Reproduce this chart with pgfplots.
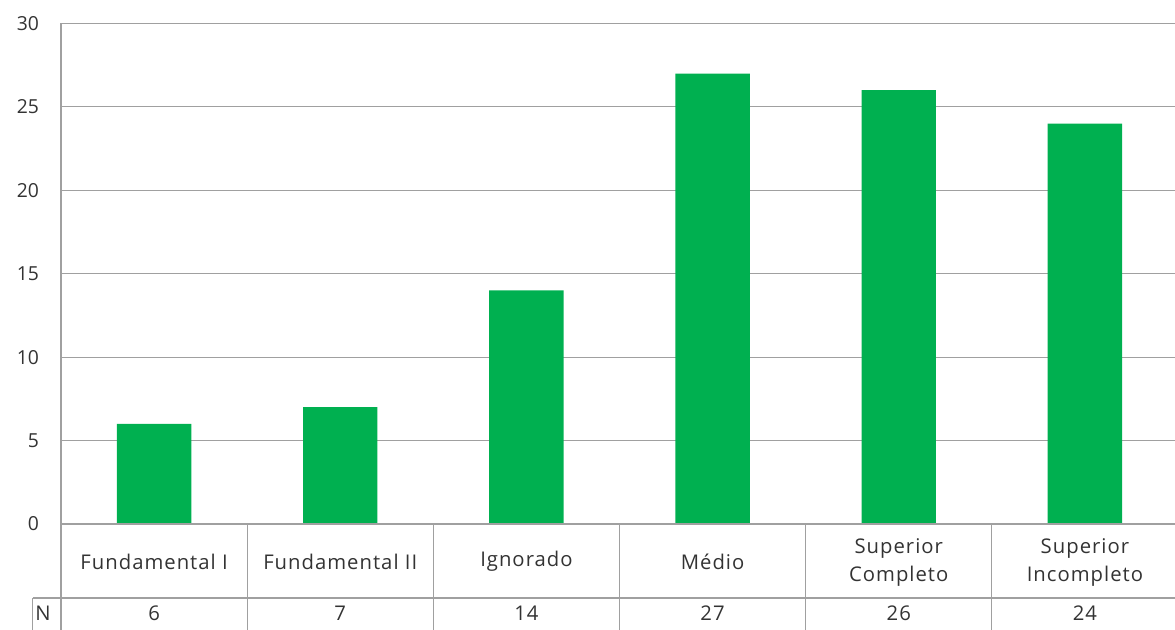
\documentclass[border=0pt]{standalone}
\usepackage{pgfplots}
\pgfplotsset{compat=1.18}
\usepackage{fontspec}
\setmainfont{Open Sans}
\definecolor{bargreen}{HTML}{00B050}
\definecolor{gridgray}{HTML}{A0A0A0}
\definecolor{txt}{HTML}{333333}
\begin{document}
\begin{tikzpicture}
\begin{axis}[
    at={(45.75pt,78.75pt)}, anchor=south west,
    scale only axis,
    width=837.75pt, height=375.4pt,
    xmin=-0.5, xmax=5.5, ymin=0, ymax=30,
    ytick={0,5,...,30},
    xtick=\empty,
    axis x line=none,
    axis y line*=left,
    axis line style={draw=gridgray, line width=0.9pt, -},
    ymajorgrids,
    major grid style={draw=gridgray, line width=0.9pt},
    major tick length=0pt,
    /pgf/number format/assume math mode=true,
    yticklabel style={font=\fontsize{14.5}{16}\selectfont, text=txt, xshift=-13pt},
    clip=false,
]
\addplot[ybar, bar width=0.4, fill=bargreen, draw=none] coordinates {
    (0,6) (1,7) (2,14) (3,27) (4,26) (5,24)
};
% data table below the plot
\draw[gridgray, line width=0.9pt] (axis cs:-0.5,0) -- (axis cs:5.6,0);
\draw[gridgray, line width=0.9pt] (axis cs:-0.651,-4.435) -- (axis cs:5.6,-4.435);
\draw[gridgray, line width=0.9pt] (axis cs:-0.651,-4.435) -- (axis cs:-0.651,-7);
\pgfplotsinvokeforeach{-0.5,0.5,1.5,2.5,3.5,4.5}{
    \draw[gridgray, line width=0.9pt] (axis cs:#1,0) -- (axis cs:#1,-7);
}
\begin{scope}[every node/.style={font=\addfontfeature{LetterSpace=5}\fontsize{15.2}{21.5}\selectfont, text=txt, align=center}]
\node at (axis cs:0,-2.25) {Fundamental I};
\node at (axis cs:1,-2.25) {Fundamental II};
\node at (axis cs:2,-2.25) {Ignorado};
\node at (axis cs:3,-2.25) {Médio};
\node at (axis cs:4,-2.3) {Superior\\Completo};
\node at (axis cs:5,-2.3) {Superior\\Incompleto};
\node at (axis cs:-0.597,-5.36) {N};
\node at (axis cs:0,-5.36) {6};
\node at (axis cs:1,-5.36) {7};
\node at (axis cs:2,-5.36) {14};
\node at (axis cs:3,-5.36) {27};
\node at (axis cs:4,-5.36) {26};
\node at (axis cs:5,-5.36) {24};
\end{scope}
\end{axis}
\pgfresetboundingbox
\useasboundingbox (0,0) rectangle (881.25pt,471.75pt);
\end{tikzpicture}
\end{document}
